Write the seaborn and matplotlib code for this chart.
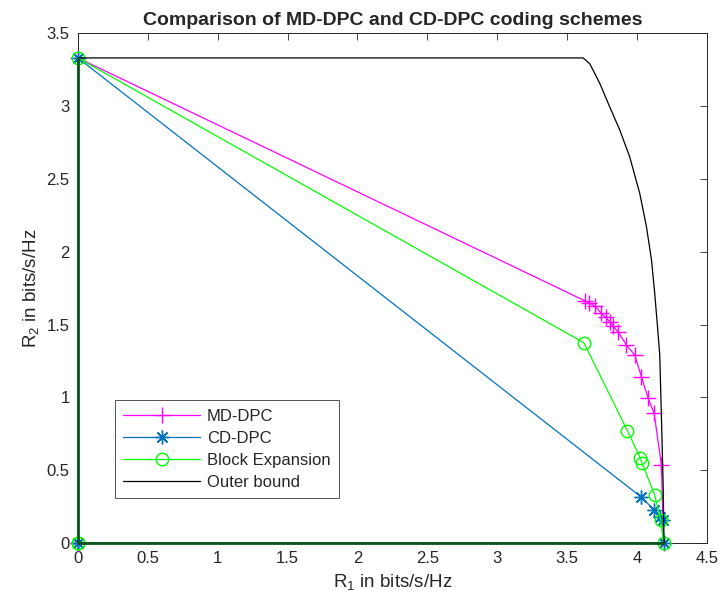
"""
Comparison of MD-DPC and CD-DPC coding schemes: rate regions.
"""

import matplotlib

matplotlib.use("Agg")
import matplotlib.pyplot as plt
import pandas as pd
import seaborn as sns

# rate-region corner points
R2_MAX = 3.33
R1_MAX = 4.19

md_dpc_r1 = [0, 0, 3.627, 3.657, 3.698, 3.746, 3.777, 3.805, 3.829, 3.865,
             3.925, 3.984, 4.032, 4.080, 4.123, 4.175, 4.19, 0]
md_dpc_r2 = [0, 3.33, 1.663, 1.649, 1.627, 1.576, 1.549, 1.519, 1.489, 1.450,
             1.359, 1.290, 1.141, 0.993, 0.890, 0.535, 0, 0]

cd_dpc_r1 = [0, 0, 4.032, 4.123, 4.163, 4.187, 4.19, 0]
cd_dpc_r2 = [0, 3.33, 0.314, 0.226, 0.176, 0.158, 0, 0]

block_r1 = [0, 0, 3.62, 3.932, 4.025, 4.037, 4.127, 4.170, 4.19, 0]
block_r2 = [0, 3.33, 1.375, 0.771, 0.581, 0.547, 0.329, 0.158, 0, 0]

outer_r1 = [0, 3.615, 3.662, 3.700, 3.734, 3.805, 3.877, 3.948, 4.020,
            4.068, 4.104, 4.127, 4.147, 4.163, 4.175, 4.187, 4.194]
outer_r2 = [3.33, 3.33, 3.29, 3.22, 3.155, 2.994, 2.835, 2.651, 2.40,
            2.171, 1.942, 1.714, 1.485, 1.29, 0.867, 0.41, 0]

x_ticks = [0, 0.5, 1, 1.5, 2, 2.5, 3, 3.5, 4, 4.5]
y_ticks = [0, 0.5, 1, 1.5, 2, 2.5, 3, 3.5]

SERIES = [
    ("MD-DPC", md_dpc_r1, md_dpc_r2, "#ff00ff", "+",
     dict(markersize=11, markeredgewidth=1.0)),
    ("CD-DPC", cd_dpc_r1, cd_dpc_r2, "#0072bd", (8, 2, 0),
     dict(markersize=10, markeredgewidth=1.0)),
    ("Block Expansion", block_r1, block_r2, "#00ff00", "o",
     dict(markersize=9, markerfacecolor="none", markeredgewidth=1.0)),
]


def main():
    sns.set_style("white")
    plt.rcParams["font.family"] = ["Liberation Sans", "DejaVu Sans"]
    plt.rcParams["mathtext.fontset"] = "custom"
    plt.rcParams["mathtext.rm"] = "Liberation Sans"

    fig = plt.figure(figsize=(7.22, 6.03), dpi=100)
    ax = fig.add_axes([0.108, 0.0995, 0.871, 0.8455])

    for name, r1, r2, color, marker, style in SERIES:
        df = pd.DataFrame({"R1": r1, "R2": r2})
        sns.lineplot(data=df, x="R1", y="R2", sort=False, estimator=None,
                     color=color, marker=marker, linewidth=0.9,
                     markeredgecolor=color, label=name, ax=ax,
                     clip_on=False, zorder=3, **style)

    df_outer = pd.DataFrame({"R1": outer_r1, "R2": outer_r2})
    sns.lineplot(data=df_outer, x="R1", y="R2", sort=False, estimator=None,
                 color="black", linewidth=0.9, label="Outer bound", ax=ax,
                 zorder=3)

    # edges of the region along the axes
    df_axes = pd.DataFrame({"R1": [0, 0, R1_MAX], "R2": [R2_MAX, 0, 0]})
    sns.lineplot(data=df_axes, x="R1", y="R2", sort=False, estimator=None,
                 color="#0b5220", linewidth=2.0, ax=ax, legend=False,
                 clip_on=False, zorder=3.5)

    ax.set_xlim(0, 4.5)
    ax.set_ylim(0, 3.5)
    ax.set_xticks(x_ticks)
    ax.set_xticklabels([f"{t:g}" for t in x_ticks])
    ax.set_yticks(y_ticks)
    ax.set_yticklabels([f"{t:g}" for t in y_ticks])
    ax.tick_params(direction="in", top=True, right=True, length=5,
                   width=0.6, labelsize=12, colors="#262626", pad=6)
    for spine in ax.spines.values():
        spine.set_color("#262626")
        spine.set_linewidth(0.7)

    ax.set_xlabel(r"$\mathregular{R_1}$ in bits/s/Hz", fontsize=13.5, color="#262626")
    ax.set_ylabel(r"$\mathregular{R_2}$ in bits/s/Hz", fontsize=13.5, color="#262626")
    ax.set_title("Comparison of MD-DPC and CD-DPC coding schemes",
                 fontsize=14, fontweight="bold", pad=6)

    leg = ax.legend(loc="lower left", bbox_to_anchor=(0.059, 0.088),
                    borderaxespad=0, fontsize=12, frameon=True,
                    fancybox=False, edgecolor="#262626", handlelength=4.6,
                    handletextpad=0.4, borderpad=0.5, labelspacing=0.42)
    leg.get_frame().set_linewidth(0.7)
    leg.set_zorder(5)

    fig.savefig("out.png", dpi=100)
    plt.close(fig)


if __name__ == "__main__":
    main()
